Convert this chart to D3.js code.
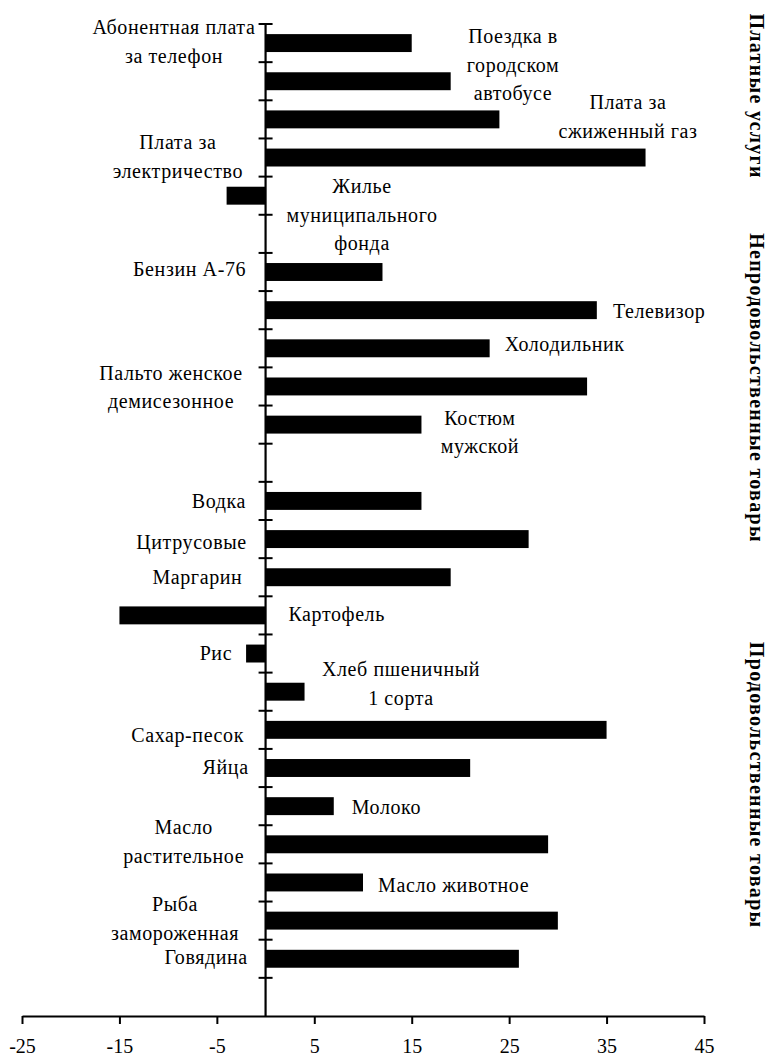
<!DOCTYPE html>
<html>
<head>
<meta charset="utf-8">
<script src="https://cdn.jsdelivr.net/npm/d3@7"></script>
<style>
  html, body { margin: 0; padding: 0; background: #fff; }
  svg { display: block; }
  svg text { font-family: "Liberation Serif", "DejaVu Serif", serif; fill: #000; }
</style>
</head>
<body>
<div id="chart"></div>
<script>
// ---- data ----
const categories = [
  "Абонентная плата за телефон",
  "Поездка в городском автобусе",
  "Плата за сжиженный газ",
  "Плата за электричество",
  "Жилье муниципального фонда",
  "",
  "Бензин А-76",
  "Телевизор",
  "Холодильник",
  "Пальто женское демисезонное",
  "Костюм мужской",
  "",
  "Водка",
  "Цитрусовые",
  "Маргарин",
  "Картофель",
  "Рис",
  "Хлеб пшеничный 1 сорта",
  "Сахар-песок",
  "Яйца",
  "Молоко",
  "Масло растительное",
  "Масло животное",
  "Рыба замороженная",
  "Говядина",
  ""
];
const values = [15, 19, 24, 39, -4, null, 12, 34, 23, 33, 16, null,
                16, 27, 19, -15, -2, 4, 35, 21, 7, 29, 10, 30, 26, null];
const labelLines = [
  ["Абонентная плата", "за телефон"],
  ["Поездка в", "городском", "автобусе"],
  ["Плата за", "сжиженный газ"],
  ["Плата за", "электричество"],
  ["Жилье", "муниципального", "фонда"],
  [],
  ["Бензин А-76"],
  ["Телевизор"],
  ["Холодильник"],
  ["Пальто женское", "демисезонное"],
  ["Костюм", "мужской"],
  [],
  ["Водка"],
  ["Цитрусовые"],
  ["Маргарин"],
  ["Картофель"],
  ["Рис"],
  ["Хлеб пшеничный", "1 сорта"],
  ["Сахар-песок"],
  ["Яйца"],
  ["Молоко"],
  ["Масло", "растительное"],
  ["Масло животное"],
  ["Рыба", "замороженная"],
  ["Говядина"],
  []
];
const groups = ["Платные услуги", "Непродовольственные товары", "Продовольственные товары"];
const xTicks = [-25, -15, -5, 5, 15, 25, 35, 45];

// ---- layout (in data units: x value, row position) ----
const labelAnchor = [
  [-9.4, 0.10], [25.4, 0.34], [37.2, 2.07], [-9.0, 3.12], [9.9, 4.27], null,
  [-7.8, 6.45], [40.4, 7.55], [30.7, 8.41], [-9.7, 9.15], [22.0, 10.33], null,
  [-4.8, 12.53], [-7.6, 13.58], [-7.0, 14.50], [7.3, 15.49], [-5.1, 16.49],
  [13.9, 16.93], [-8.0, 18.64], [-4.1, 19.50], [12.4, 20.55], [-8.4, 21.07],
  [19.3, 22.57], [-9.3, 23.09], [-6.1, 24.48], null
];
const groupAnchor = [[50.4, 1.89], [50.4, 9.54], [50.4, 19.95]];

const FONT = '"Liberation Serif", "DejaVu Serif", serif';
const W = 768, H = 1057;
const svg = d3.select("#chart").append("svg").attr("width", W).attr("height", H);

const x = d3.scaleLinear().domain([-25, 45]).range([22, 704]);
const y = d3.scaleBand().domain(d3.range(categories.length)).range([24, 1016])
  .paddingInner(0.53).paddingOuter(0.265);
const rowPos = r => y.range()[0] + r * y.step();

// bars
svg.append("g").selectAll("rect")
  .data(values.map((v, i) => ({v, i})).filter(d => d.v !== null))
  .join("rect")
  .attr("x", d => x(Math.min(0, d.v)))
  .attr("width", d => Math.abs(x(d.v) - x(0)))
  .attr("y", d => y(d.i))
  .attr("height", y.bandwidth())
  .attr("fill", "#000");

// y axis (at zero)
const yAxisG = svg.append("g");
yAxisG.append("line")
  .attr("x1", x(0)).attr("x2", x(0))
  .attr("y1", rowPos(0)).attr("y2", rowPos(categories.length))
  .attr("stroke", "#000").attr("stroke-width", 2.2);
yAxisG.selectAll("line.tk")
  .data(d3.range(categories.length))
  .join("line").attr("class", "tk")
  .attr("x1", x(0) - 7).attr("x2", x(0) + 7)
  .attr("y1", d => rowPos(d)).attr("y2", d => rowPos(d))
  .attr("stroke", "#000").attr("stroke-width", 2);

// x axis
const xAxis = d3.axisBottom(x).tickValues(xTicks).tickFormat(d => String(d))
  .tickSize(8).tickPadding(15).tickSizeOuter(0);
const xg = svg.append("g").attr("transform", `translate(0,${rowPos(categories.length)})`).call(xAxis);
xg.attr("font-family", null).attr("font-size", null);
xg.select(".domain").attr("stroke", "#000").attr("stroke-width", 2.2);
xg.selectAll(".tick line").attr("stroke", "#000").attr("stroke-width", 2);
xg.selectAll(".tick text").style("font-size", "20px").style("font-family", FONT);

// category labels
const lineH = 28.5;
labelLines.forEach((lines, i) => {
  const a = labelAnchor[i];
  if (!a || !lines.length) return;
  const t = svg.append("text")
    .attr("text-anchor", "middle")
    .style("font-family", FONT)
    .style("font-size", "20px")
    .attr("letter-spacing", 0.6)
    .attr("x", x(a[0]))
    .attr("y", rowPos(a[1]));
  lines.forEach((ln, k) => {
    t.append("tspan").attr("x", x(a[0])).attr("y", rowPos(a[1]) + k * lineH)
      .attr("dy", "0.32em").text(ln);
  });
});

// group labels (rotated)
groups.forEach((g, i) => {
  const a = groupAnchor[i];
  svg.append("text")
    .attr("transform", `translate(${x(a[0])},${rowPos(a[1])}) rotate(90)`)
    .attr("text-anchor", "middle")
    .attr("dy", "0.35em")
    .style("font-family", FONT)
    .style("font-size", "20px")
    .style("font-weight", "bold")
    .attr("letter-spacing", 1.3)
    .text(g);
});
</script>
</body>
</html>
